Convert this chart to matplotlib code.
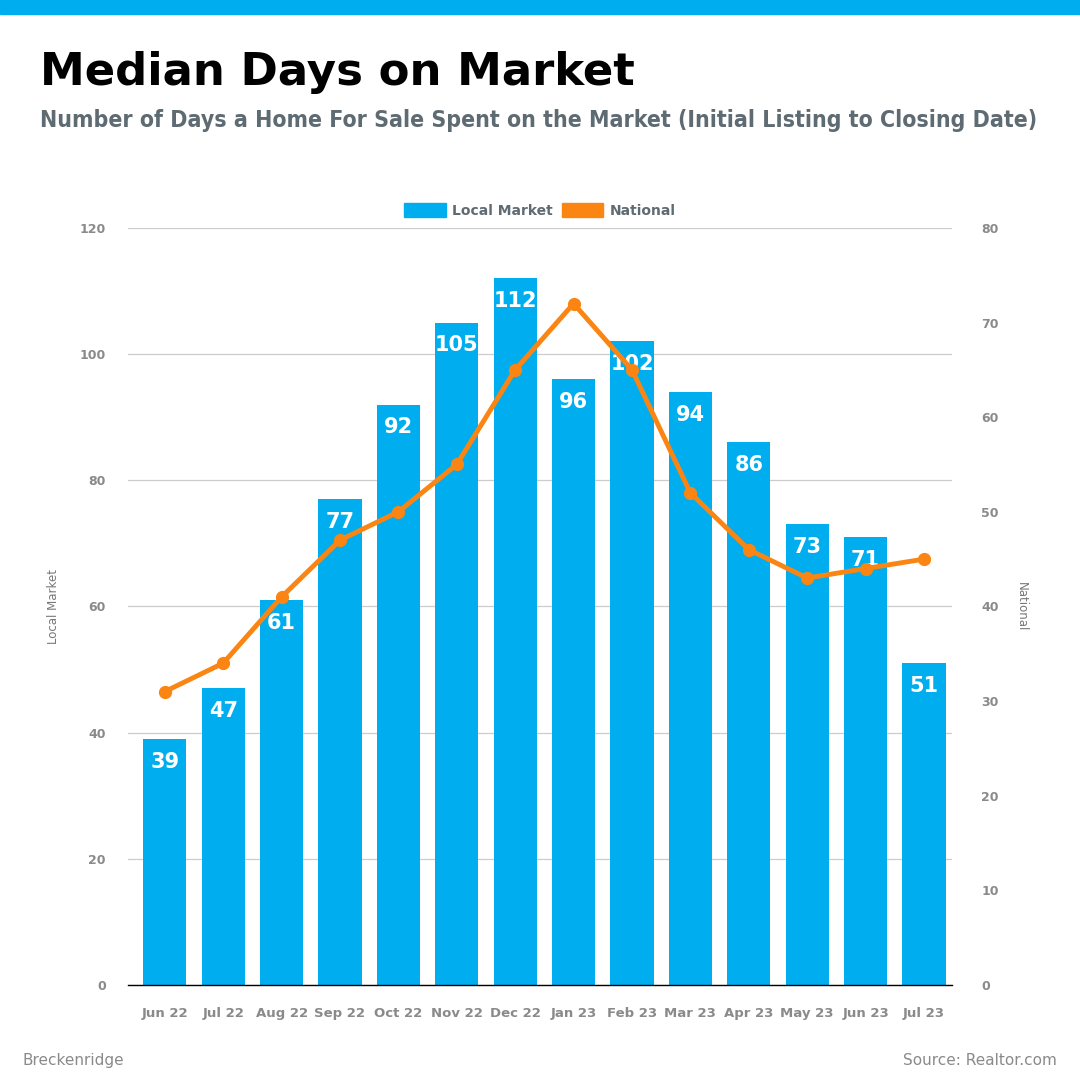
import matplotlib.pyplot as plt
from matplotlib.patches import Patch, Rectangle

months = ["Jun 22", "Jul 22", "Aug 22", "Sep 22", "Oct 22", "Nov 22", "Dec 22",
          "Jan 23", "Feb 23", "Mar 23", "Apr 23", "May 23", "Jun 23", "Jul 23"]
local_market = [39, 47, 61, 77, 92, 105, 112, 96, 102, 94, 86, 73, 71, 51]
national = [31, 34, 41, 47, 50, 55, 65, 72, 65, 52, 46, 43, 44, 45]

left_ticks = [0, 20, 40, 60, 80, 100, 120]
right_ticks = [0, 10, 20, 30, 40, 50, 60, 70, 80]

blue = "#00aeef"
orange = "#fb8512"
grey = "#8a8a8a"
slate = "#5f6b73"

fig = plt.figure(figsize=(10.8, 10.8), dpi=100)
ax = fig.add_axes([0.1185, 0.088, 0.763, 0.701])
ax2 = ax.twinx()

x = range(len(months))
ax.bar(x, local_market, width=0.74, color=blue, zorder=2)
for xi, v in zip(x, local_market):
    ax.text(xi, v - 2.0, str(v), ha="center", va="top", color="white",
            fontsize=15, fontweight="bold", zorder=5)

ax2.plot(x, national, color=orange, lw=3.5, marker="o", ms=8.5, zorder=3)

ax.set_ylim(0, 120)
ax.set_yticks(left_ticks)
ax2.set_ylim(0, 80)
ax2.set_yticks(right_ticks)
ax.set_xlim(-0.63, 13.48)
ax.set_xticks(list(x))
ax.set_xticklabels(months)

ax.grid(axis="y", color="#cccccc", lw=0.9, zorder=0)
ax.set_axisbelow(True)
for a in (ax, ax2):
    for s in ("top", "left", "right", "bottom"):
        a.spines[s].set_visible(False)
ax.spines["bottom"].set_visible(True)
ax.spines["bottom"].set_color("black")
ax.spines["bottom"].set_linewidth(1)

ax.tick_params(axis="y", length=0, pad=16, labelsize=9, labelcolor=grey)
ax2.tick_params(axis="y", length=0, pad=21, labelsize=9, labelcolor=grey)
ax.tick_params(axis="x", length=0, pad=16, labelsize=9.5, labelcolor=grey)
for lbl in ax.get_xticklabels() + ax.get_yticklabels() + ax2.get_yticklabels():
    lbl.set_fontweight("bold")

ax.set_ylabel("Local Market", fontsize=8.5, color="#777777", labelpad=14)
ax2.set_ylabel("National", fontsize=8.5, color="#777777", rotation=270, labelpad=21)

handles = [Patch(color=blue, label="Local Market"), Patch(color=orange, label="National")]
leg = fig.legend(handles=handles, loc="center", bbox_to_anchor=(0.5, 0.805), ncol=2,
                 frameon=False, handlelength=3.0, handleheight=1.1, handletextpad=0.5,
                 columnspacing=0.6, prop={"weight": "bold", "size": 10})
for t in leg.get_texts():
    t.set_color(slate)

# top band
fig.patches.append(Rectangle((0, 1 - 14 / 1080), 1, 14 / 1080, transform=fig.transFigure,
                             color=blue, zorder=0))

fig.text(40 / 1080, 1 - 85 / 1080, "Median Days on Market", fontsize=32.4,
         fontweight="bold", color="black", va="baseline")
fig.text(40 / 1080, 1 - 127 / 1080,
         "Number of Days a Home For Sale Spent on the Market (Initial Listing to Closing Date)",
         fontsize=16.6, fontweight="bold", family="DejaVu Sans", fontstretch="condensed",
         color=slate, va="baseline")

fig.text(22 / 1080, 1 - 1065 / 1080, "Breckenridge", fontsize=11, color=grey, va="baseline")
fig.text(1057 / 1080, 1 - 1065 / 1080, "Source: Realtor.com", fontsize=11, color=grey,
         ha="right", va="baseline")

plt.savefig("out.png", dpi=100)
